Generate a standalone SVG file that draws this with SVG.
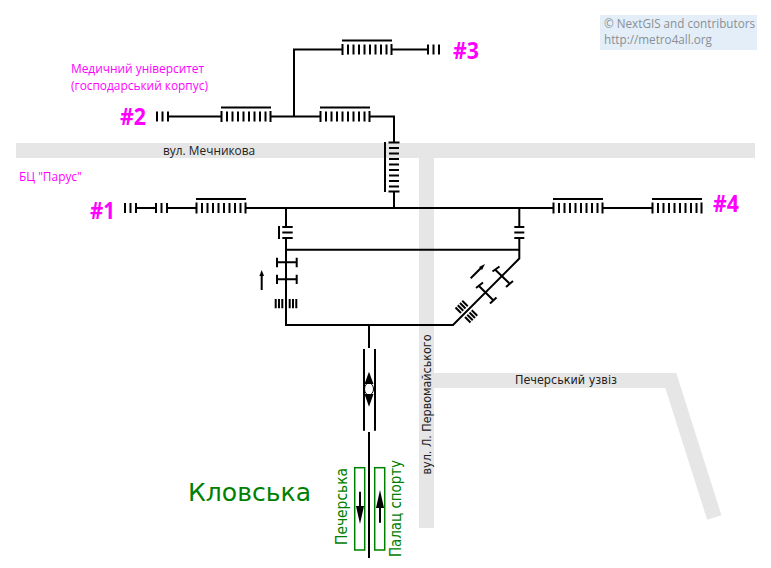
<svg xmlns="http://www.w3.org/2000/svg" width="771" height="568" viewBox="0 0 771 568">
<style>
.t{font-family:"Open Sans","Noto Sans",sans-serif}
.d{font-family:"DejaVu Sans",sans-serif}
.r{fill:none;stroke:#e6e6e6;stroke-width:15}
.l{fill:none;stroke:#000;stroke-width:2}
.k{fill:none;stroke:#000;stroke-width:2}
.m{fill:#f0f;font-size:11.900px}
.h{fill:#f0f;font-size:24px;font-weight:700}
.g{fill:#008000}
.s{fill:#222;font-size:11.900px}
.c{fill:#8a8f94;font-size:11.700px}
.b{fill:none;stroke:#008000;stroke-width:1.5}
</style>
<defs>
<g id="st"><path class="k" d="M0-9H50M.5-5.500V5.500M6-5V5M11.500-5V5M17-5V5M22.500-5V5M28-5V5M33.500-5V5M39-5V5M44.500-5V5M49.500-5.500V5.500"/></g>
<g id="t3"><path class="k" d="M0-5V5M5.500-5V5M11-5V5"/></g>
</defs>
<g id="roads">
<path class="r" d="M16 150.500H755M426.500 158V528M434 380.500H670.800L714.300 517.500"/>
</g>
<g id="connectors">
<path class="l" d="M294 116V49.500H342M392 49.500H428M168 116.500H221M271 116.500H320M370 116.500H394V142M394 192V208M136 208H157M167 208H196M246 208H553M603 208H652M286 208V227M286 238V325H453L519.300 258.500V238M519.300 227V208M286 249.700H519.300M369 325V348M369 432V558"/>
</g>
<g id="stairs">
<use href="#st" x="342" y="49.500"/><use href="#st" x="221" y="116.500"/><use href="#st" x="320" y="116.500"/><use href="#st" x="196" y="208"/><use href="#st" x="553" y="208"/><use href="#st" x="652" y="208"/>
<use href="#st" transform="translate(394 142) rotate(90) scale(1 -1)"/>
<use href="#t3" x="428" y="49.500"/><use href="#t3" x="157" y="116.500"/><use href="#t3" x="125" y="208"/><use href="#t3" x="156" y="208"/>
<path class="k" d="M279 226V239M282.300 227H292.700M282.300 232.500H292.700M282.300 238H292.700M514.300 227H524.300M514.300 232.500H524.300M514.300 238H524.300"/>
<path class="k" d="M277 262.300H296.700M277 257.700V267.300M296.700 257.700V267.300M277 279.300H296.700M277 274.700V284M296.700 274.700V284M275.700 299V308.300M279 299V308.300M282.300 299V308.300M289.700 299V308.300M293 299V308.300M296.300 299V308.300"/>
<path class="k" d="M495 269.500L509.500 283.500M492.500 271.500L499.500 266.500M506 287L513 281M479 286L493 300M476 288L483 282.500M490 303.500L496.500 297.500"/>
<path class="k" stroke-width="1.700" d="M455.500 307.500L461 313M465 317L470.500 322.500M457.750 305.250L463.250 310.750M467.250 314.750L472.750 320.250M460 303L465.500 308.500M469.500 312.500L475 318M462.250 300.750L467.750 306.250M471.750 310.250L477.250 315.750"/>
<path class="k" d="M364 349V430.700M375 349V430.700"/>
<path d="M369 371.700L373.500 384H364.500ZM369 406.700L373.500 394H364.500Z" fill="#000"/>
<ellipse cx="369" cy="389" rx="4.500" ry="6" fill="none" stroke="#000" stroke-width="1"/>
<path class="k" d="M261.700 290V274"/><path d="M261.700 270L264 276H259.400Z"/>
<path class="k" d="M470.700 278.300L482 267"/><path d="M485 264L482 270L479 267Z"/>
</g>
<g id="platforms">
<rect class="b" x="354.700" y="467.700" width="10" height="82.300"/><rect class="b" x="374.700" y="467.700" width="10" height="82.300"/>
<path class="k" d="M360 491.700V512M380 522.700V502"/><path d="M360 524L356 506H364ZM380 490L384 508H376Z"/>
</g>
<g id="labels">
<rect x="600" y="15" width="157" height="35" fill="#e3eef9"/>
<text class="t c" x="604" y="28">© NextGIS and contributors</text>
<text class="t c" x="604" y="44">http://metro4all.org</text>
<text class="t s" x="163" y="155">вул. Мечникова</text>
<text class="d s" transform="translate(431 474.500) rotate(-90)" textLength="140" lengthAdjust="spacingAndGlyphs">вул. Л. Первомайського</text>
<text class="d s" x="515" y="384" textLength="102" lengthAdjust="spacingAndGlyphs">Печерський узвіз</text>
<text class="t m" x="71" y="73">Медичний університет</text>
<text class="t m" x="71" y="90">(господарський корпус)</text>
<text class="t m" x="19" y="181">БЦ "Парус"</text>
<text class="t h" x="90" y="219" textLength="25" lengthAdjust="spacingAndGlyphs">#1</text><text class="t h" x="120" y="125" textLength="26" lengthAdjust="spacingAndGlyphs">#2</text><text class="t h" x="453" y="59" textLength="26" lengthAdjust="spacingAndGlyphs">#3</text><text class="t h" x="713" y="212" textLength="26" lengthAdjust="spacingAndGlyphs">#4</text>
<text class="d g" x="188" y="501" font-size="25" textLength="123" lengthAdjust="spacingAndGlyphs">Кловська</text>
<text class="d g" font-size="15" transform="translate(347 545) rotate(-90)" textLength="77" lengthAdjust="spacingAndGlyphs">Печерська</text>
<text class="d g" font-size="15" transform="translate(401 557) rotate(-90)" textLength="97" lengthAdjust="spacingAndGlyphs">Палац спорту</text>
</g>
</svg>
